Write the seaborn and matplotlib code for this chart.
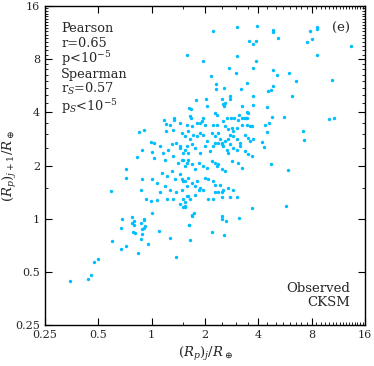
import numpy as np
import pandas as pd
import matplotlib
matplotlib.use("Agg")
import matplotlib.pyplot as plt
import matplotlib.ticker as mticker
import seaborn as sns

# radius of planet j (x) and of planet j+1 (y), in Earth radii
rp_j = [2.21, 3.02, 3.92, 3.54, 3.72, 3.90, 4.82, 4.85, 5.17, 7.83, 8.53, 8.53, 8.0, 7.56, 13.3,
        1.59, 1.95, 3.04, 3.90, 8.6, 2.73, 2.99, 3.75, 4.86, 5.1, 5.98, 2.15, 3.47, 6.53, 10.4,
        2.3, 2.32, 2.55, 3.18, 4.82, 4.74, 4.54, 1.79, 2.03, 2.05, 2.49, 2.76, 2.77, 3.73, 6.17,
        1.63, 1.66, 2.54, 2.59, 2.57, 3.25, 3.73, 4.5, 2.28, 2.34, 3.45, 3.5, 3.12, 1.65,
        1.67, 1.95, 2.65, 2.93, 3.24, 3.39, 3.44, 4.8, 5.61, 9.98, 10.7, 1.34, 3.3,
        4.38, 4.61, 4.48, 7.15, 7.27, 4.18, 4.3, 4.7, 5.86, 3.67, 5.76, 3.11, 2.48, 2.48, 2.62,
        1.62, 1.69, 1.73, 1.69, 1.65, 2.18, 2.57,
        0.346, 0.44, 0.453, 0.474, 0.5, 0.6, 0.67, 0.67, 0.714, 0.68, 0.772, 0.795, 0.78, 0.81,
        0.838, 0.87, 0.878, 0.906, 0.878, 0.875, 0.917, 0.906, 0.954, 1.1, 1.27, 1.38, 1.63,
        1.33, 1.32, 1.18, 1.21, 1.27, 1.2, 0.845, 0.9, 0.99, 1.03, 0.885, 1.01, 1.03, 0.826,
        0.716, 0.72, 0.878, 1.01, 0.87, 0.587, 0.932, 0.987, 1.067, 1.0, 0.772, 0.795, 0.9,
        # dense cluster
        1.44, 1.58, 1.68, 1.8, 1.88, 1.92, 2.0, 2.23, 2.33, 2.54, 2.59, 2.71, 2.83, 2.89, 3.02,
        3.22, 3.43, 3.6, 3.67,
        1.48, 1.54, 1.61, 1.65, 1.72, 1.8, 1.88, 1.96, 2.04, 2.18, 2.28, 2.38, 2.43, 2.48, 2.59,
        2.71, 2.77, 2.89, 3.02, 3.15, 3.35, 3.5, 3.6, 3.74,
        1.44, 1.54, 1.61, 1.68, 1.76, 1.88, 2.0, 2.13, 2.23, 2.28, 2.38, 2.48, 2.54, 2.65, 2.71,
        2.77, 2.89, 3.02, 3.15, 3.35, 3.5, 3.67,
        1.51, 1.58, 1.68, 1.76, 1.84, 1.96, 2.04, 2.18, 2.28, 2.33, 2.38, 2.48, 2.59, 2.83, 3.08, 3.22,
        1.48, 1.54, 1.61, 1.68, 1.76, 1.8, 1.88, 1.96, 2.0, 2.09, 2.23, 2.28, 2.43, 2.54, 2.71,
        2.89, 2.28, 2.38, 2.48,
        1.51, 1.54, 1.61, 1.65, 1.76, 1.84, 2.09, 2.23, 2.48, 2.77, 3.02, 1.5, 1.54, 2.8, 3.08,
        1.114, 1.16, 1.19, 1.24, 1.3, 1.32, 1.38, 1.44, 1.51, 1.58, 1.48, 1.41, 1.54, 1.61,
        1.14, 1.22, 1.3, 1.35, 1.44, 1.51, 1.58, 1.19, 1.27, 1.38, 1.48, 1.58, 1.32, 1.44, 1.54,
        1.22, 1.11, 1.07]
rp_j1 = [11.5, 12.1, 12.4, 10.1, 9.7, 10.2, 11.7, 11.4, 10.6, 11.5, 12.1, 11.9, 10.4, 10.0, 9.5,
         8.4, 7.8, 8.35, 7.85, 8.4, 7.1, 6.7, 7.1, 6.95, 6.5, 6.7, 6.4, 5.9, 6.05, 6.1,
         5.75, 5.45, 5.5, 5.4, 5.65, 5.35, 5.3, 4.67, 4.73, 4.32, 4.75, 4.98, 4.74, 4.92, 4.92,
         4.23, 4.19, 4.44, 4.5, 4.32, 4.34, 4.39, 4.3, 3.95, 3.85, 4.04, 3.95, 3.87, 3.83,
         3.7, 3.7, 3.7, 3.7, 3.7, 3.7, 3.7, 3.75, 3.77, 3.67, 3.7, 3.72, 3.72,
         3.37, 3.48, 3.11, 3.14, 2.79, 2.73, 2.53, 2.03, 1.88, 1.15, 1.18, 1.01, 1.04, 0.99, 0.965,
         0.92, 1.05, 1.07, 1.03, 0.755, 0.845, 0.805,
         0.443, 0.455, 0.477, 0.572, 0.59, 0.75, 0.88, 0.67, 0.70, 0.99, 0.95, 0.917, 0.837, 0.83,
         0.64, 0.77, 0.878, 0.885, 0.822, 0.94, 0.913, 0.987, 0.72, 0.848, 0.78, 0.61, 0.917,
         3.64, 3.16, 3.64, 3.42, 3.38, 3.13, 3.08, 3.16, 2.71, 2.69, 2.44, 2.38, 2.2, 2.24,
         1.92, 1.7, 1.68, 1.67, 1.445, 1.43, 1.3, 1.26, 1.27, 1.08, 1.026, 0.965, 1.0,
         # dense cluster
         3.48, 3.41, 3.33, 3.48, 3.48, 3.55, 3.41, 3.41, 3.41, 3.55, 3.36, 3.2, 3.27, 3.13, 3.27,
         3.41, 3.41, 3.33, 3.33,
         3.05, 2.93, 3.13, 2.81, 2.98, 2.93, 3.05, 2.98, 2.74, 3.05, 2.93, 3.05, 2.81, 2.69, 2.74,
         2.81, 2.98, 2.93, 2.81, 2.69, 2.98, 2.87, 2.74, 2.81,
         2.57, 2.46, 2.36, 2.66, 2.52, 2.36, 2.57, 2.41, 2.57, 2.69, 2.69, 2.66, 2.57, 2.46, 2.36,
         2.66, 2.52, 2.46, 2.57, 2.41, 2.31, 2.25,
         2.16, 2.07, 2.03, 1.9, 2.07, 1.98, 1.94, 2.11, 2.07, 1.98, 2.03, 1.9, 1.86, 2.11, 2.07, 1.94,
         1.67, 1.63, 1.71, 1.6, 1.53, 1.63, 1.5, 1.46, 1.71, 1.67, 1.63, 1.56, 1.56, 1.46, 1.5,
         1.46, 1.41, 1.41, 1.41,
         1.29, 1.25, 1.34, 1.29, 1.37, 1.46, 1.29, 1.29, 1.32, 1.32, 1.33, 1.16, 1.18, 3.7, 3.64,
         2.57, 2.36, 2.16, 2.46, 2.66, 2.25, 2.69, 2.52, 2.36, 2.57, 2.16, 2.07, 1.98, 2.16,
         1.82, 1.75, 1.86, 1.67, 1.78, 1.63, 1.53, 1.53, 1.46, 1.41, 1.46, 1.34, 1.29, 1.21, 1.16,
         1.29, 1.41, 1.6]

tick_vals = [0.25, 0.5, 1, 2, 4, 8, 16]
tick_labels = ["0.25", "0.5", "1", "2", "4", "8", "16"]

df = pd.DataFrame({"x": rp_j, "y": rp_j1})

sns.set_style("ticks")
plt.rcParams["font.family"] = ["DejaVu Serif"]
plt.rcParams["mathtext.fontset"] = "dejavuserif"

fig = plt.figure(figsize=(3.74, 3.66), dpi=100)
ax = fig.add_axes([45 / 374, 1 - 325 / 366, 320 / 374, 319 / 366])

sns.scatterplot(data=df, x="x", y="y", ax=ax, color="#00bfff", s=6, linewidth=0)

ax.set_xscale("log", base=2)
ax.set_yscale("log", base=2)
ax.set_xlim(0.25, 16)
ax.set_ylim(0.25, 16)
for axis in (ax.xaxis, ax.yaxis):
    axis.set_major_locator(mticker.FixedLocator(tick_vals))
    axis.set_major_formatter(mticker.FixedFormatter(tick_labels))
    axis.set_minor_locator(mticker.MultipleLocator(0.5))
    axis.set_minor_formatter(mticker.NullFormatter())
ax.tick_params(which="both", direction="in", top=True, right=True, labelsize=8, color="black")
ax.tick_params(which="major", length=5, width=0.8)
ax.tick_params(which="minor", length=2.5, width=0.6)
for sp in ax.spines.values():
    sp.set_linewidth(1.0)
    sp.set_color("black")

ax.set_xlabel(r"$(R_p)_j/R_\oplus$", fontsize=9.5)
ax.set_ylabel(r"$(R_p)_{j+1}/R_\oplus$", fontsize=9.5)
ax.yaxis.set_label_coords(-0.082, 0.5)


def fy(py):
    # pixel row in the figure -> axes fraction
    return 1 - (py - 6) / 319


lines = ["Pearson", "r=0.65", "p<$10^{-5}$", "Spearman", "r$_S$=0.57", "p$_S$<$10^{-5}$"]
rows = [31.5, 47, 62.5, 78, 93, 111]
for txt, py in zip(lines, rows):
    ax.text(16 / 320, fy(py), txt, transform=ax.transAxes, fontsize=9.3, va="baseline", ha="left")
ax.text(305 / 320, fy(32), "(e)", transform=ax.transAxes, fontsize=9.5, va="baseline", ha="right")
ax.text(305 / 320, fy(292), "Observed", transform=ax.transAxes, fontsize=9.5, va="baseline", ha="right")
ax.text(305 / 320, fy(306), "CKSM", transform=ax.transAxes, fontsize=9.5, va="baseline", ha="right")

fig.savefig("out.png", dpi=100)
